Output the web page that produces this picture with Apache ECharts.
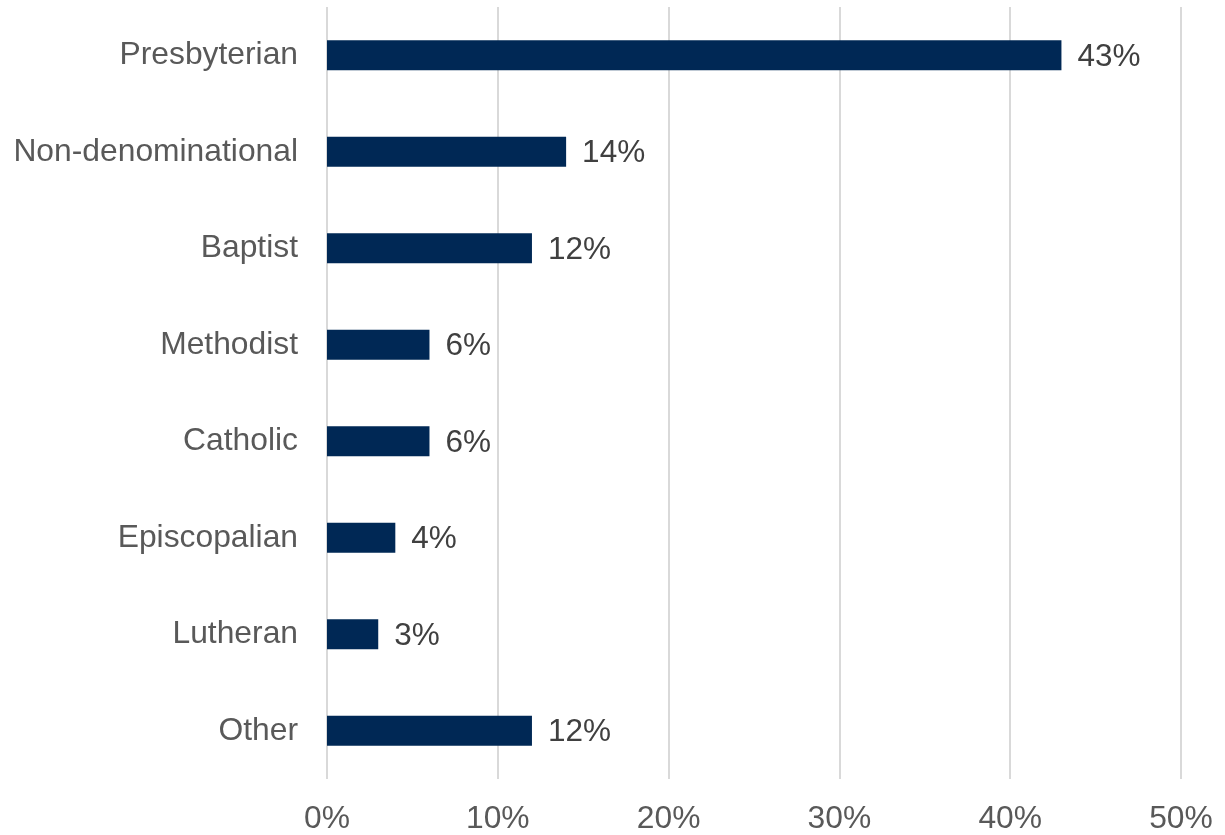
<!DOCTYPE html>
<html>
<head>
<meta charset="utf-8">
<script src="https://cdn.jsdelivr.net/npm/echarts@6/dist/echarts.min.js"></script>
<style>
  html, body { margin: 0; padding: 0; background: #fff; }
  #chart { width: 1225px; height: 835px; }
</style>
</head>
<body>
<div id="chart"></div>
<script>
// Denominations, listed top to bottom
const categories = ['Presbyterian', 'Non-denominational', 'Baptist', 'Methodist', 'Catholic', 'Episcopalian', 'Lutheran', 'Other'];
// Share of respondents, percent
const shares = [43, 14, 12, 6, 6, 4, 3, 12];
// Value axis ticks
const axisMin = 0;
const axisMax = 50;
const axisStep = 10;

const font = 'Liberation Sans, Arial, Helvetica, sans-serif';
const chart = echarts.init(document.getElementById('chart'), null, { renderer: 'canvas' });

chart.setOption({
  animation: false,
  backgroundColor: '#ffffff',
  grid: { left: 327, right: 44, top: 7, bottom: 53, containLabel: false },
  xAxis: {
    type: 'value',
    min: axisMin,
    max: axisMax,
    interval: axisStep,
    axisLine: { show: false },
    axisTick: { show: false },
    splitLine: { show: true, lineStyle: { color: '#d9d9d9', width: 2 } },
    axisLabel: {
      formatter: '{value}%',
      color: '#595959',
      fontFamily: font,
      fontSize: 31.8,
      margin: 24
    }
  },
  yAxis: {
    type: 'category',
    data: categories,
    inverse: true,
    axisLine: { show: false },
    axisTick: { show: false },
    splitLine: { show: false },
    axisLabel: {
      color: '#595959',
      fontFamily: font,
      fontSize: 31.8,
      margin: 29,
      padding: [5, 0, 0, 0]
    }
  },
  series: [{
    type: 'bar',
    data: shares,
    barWidth: 30,
    itemStyle: { color: '#002855' },
    label: {
      show: true,
      position: 'right',
      distance: 16,
      offset: [0, 2],
      formatter: '{c}%',
      color: '#404040',
      fontFamily: font,
      fontSize: 31.5
    }
  }]
});
</script>
</body>
</html>
